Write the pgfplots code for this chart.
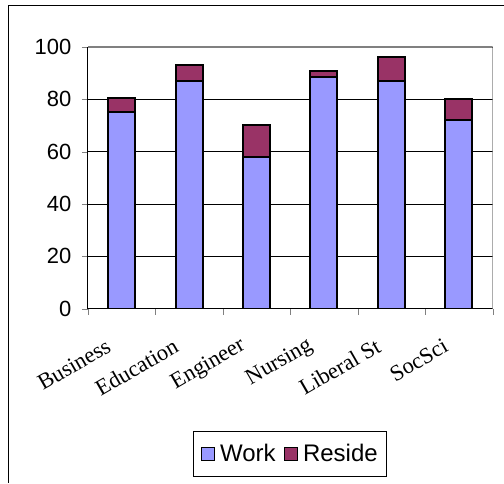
\documentclass[border=0pt]{standalone}
\usepackage{pgfplots}
\pgfplotsset{compat=1.18}
\usepackage{fontspec}
\setmainfont{Liberation Serif}
\newfontfamily\arial{Liberation Sans}
\definecolor{work}{HTML}{9999FF}
\definecolor{reside}{HTML}{993366}
\begin{document}
\begin{tikzpicture}
\begin{axis}[
    at={(0,0)}, anchor=south west,
    scale only axis,
    width=405pt, height=262pt,
    ybar stacked,
    bar width=27pt,
    xmin=-0.5, xmax=5.5,
    ymin=0, ymax=100,
    ytick={0,20,40,60,80,100},
    xtick={0,1,2,3,4,5},
    xticklabels={Business,Education,Engineer,Nursing,Liberal St,SocSci},
    minor xtick={-0.5,0.5,1.5,2.5,3.5,4.5,5.5},
    every major x tick/.append style={draw=none},
    tick align=outside,
    major tick length=6pt,
    minor tick length=6pt,
    axis lines*=left,
    axis line style={black, line width=1pt},
    ymajorgrids=true,
    grid style={black, line width=0.8pt},
    /pgf/number format/assume math mode=true,
    yticklabel style={font=\arial\fontsize{22}{26}\selectfont, xshift=-7pt},
    xticklabel style={font=\fontsize{22.5}{26}\selectfont, xshift=-10pt, yshift=-28pt, rotate=30, anchor=east},
    legend style={at={(0.5,-0.555)}, anchor=center, draw=black, line width=0.8pt,
        inner xsep=7pt, inner ysep=11pt,
        font=\arial\fontsize{24}{28}\selectfont, legend columns=2,
        /tikz/every odd column/.append style={column sep=3pt},
        /tikz/every even column/.append style={column sep=6pt}},
    legend image code/.code={\draw[#1, line width=1.4pt] (0pt,-6.5pt) rectangle (13pt,6.5pt);},
]
\addplot[fill=work, draw=black, line width=2pt] coordinates {
    (0,75) (1,87) (2,58) (3,88.5) (4,87) (5,72)
};
\addplot[fill=reside, draw=black, line width=2pt] coordinates {
    (0,5.5) (1,6) (2,12) (3,2.5) (4,9) (5,8)
};
\legend{Work,Reside}
\draw[gray, line width=1.5pt] (rel axis cs:0,1) -- (rel axis cs:1,1) -- (rel axis cs:1,0);
\end{axis}
\draw[black, line width=0.8pt] (-80pt,-174pt) -- (-80pt,304pt) -- (416pt,304pt);
\path[use as bounding box] (-88pt,-174pt) rectangle (416pt,309pt);
\end{tikzpicture}
\end{document}
